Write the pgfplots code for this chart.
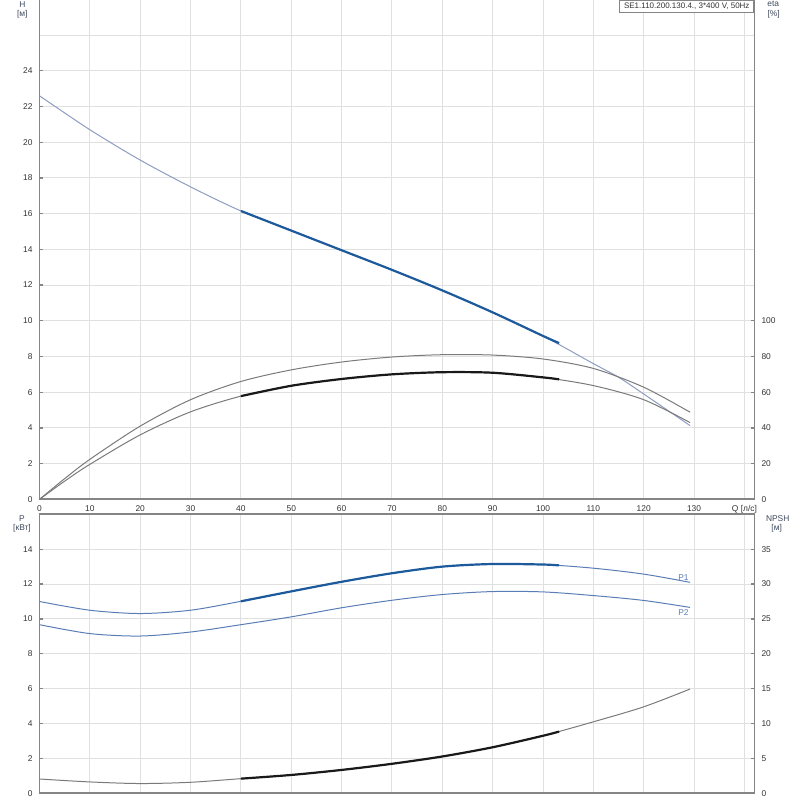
\documentclass[border=0pt]{standalone}
\usepackage{fontspec}
\setmainfont{Liberation Sans}
\usepackage{pgfplots}
\pgfplotsset{compat=1.18}
\definecolor{gridgray}{HTML}{E0E0E0}
\definecolor{axisgray}{HTML}{858585}
\definecolor{ticktext}{HTML}{333333}
\definecolor{labtext}{HTML}{3E4A5E}
\definecolor{hthin}{HTML}{8E9CC0}
\definecolor{hthick}{HTML}{1C5A9C}
\definecolor{pthin}{HTML}{5A7DB5}
\definecolor{etagray}{HTML}{7A7A7A}
\newcommand{\sm}{\fontsize{4.2}{5}\selectfont}
\pgfplotsset{
  base/.style={scale only axis, width=357.5pt, xmin=0, xmax=142,
    axis line style={draw=axisgray, line width=0.9pt},
    tick label style={font=\sm, text=ticktext},
    /pgf/number format/assume math mode=true,
    major tick length=1.5pt, tick style={draw=axisgray, line width=0.6pt},
    clip=false},
  thin/.style={line width=0.5pt, smooth, no markers},
  thick/.style={line width=1.1pt, smooth, no markers},
}
\begin{document}
\begin{tikzpicture}
\path[use as bounding box] (0,0) rectangle (400pt,-400pt);
% ---------- top panel: H ----------
\begin{axis}[base, at={(19.75pt,0.33pt)}, anchor=north west, height=250pt,
  ymin=0, ymax=28,
  xtick={0,10,...,140},
  xticklabels={0,10,20,30,40,50,60,70,80,90,100,110,120,130,{Q [л/с]}},
  xticklabel style={yshift=0.45pt},
  x tick style={draw=none},
  ytick={0,2,...,24}, ytick pos=left,
  extra y ticks={26}, extra y tick labels={},
  extra y tick style={grid=major, major tick length=0pt},
  grid=major, grid style={gridgray, line width=0.5pt},
  xtick pos=bottom]
\addplot[thin, color=hthin] table {
x y
0 22.6
10 20.7
20 19.0
30 17.5
40 16.15
50 15.05
60 13.95
70 12.85
80 11.7
90 10.47
100 9.15
110 7.6
115 6.84
120 5.9
129.2 4.13
};
\addplot[thick, color=hthick] table {
x y
40 16.15
50 15.05
60 13.95
70 12.85
80 11.7
90 10.47
100 9.15
103.2 8.75
};
\end{axis}
% ---------- top panel: eta ----------
\begin{axis}[base, at={(19.75pt,0.33pt)}, anchor=north west, height=250pt,
  ymin=0, ymax=280, axis y line*=right, axis x line=none,
  ytick={0,20,...,100}]
\addplot[thin, color=etagray] table {
x y
0 0
5 11.6
10 22.4
20 41.0
30 55.8
40 66.0
50 72.5
60 76.9
70 79.7
80 81.0
90 80.8
100 78.6
110 73.3
120 62.8
129.2 48.8
};
\addplot[thin, color=etagray] table {
x y
0 0
5 10.2
10 19.6
20 36.1
30 49.0
40 57.8
50 63.6
60 67.4
70 70.0
80 71.2
90 70.9
100 68.3
110 63.7
120 55.8
129.2 43.0
};
\addplot[thick, color=black!90] table {
x y
40 57.8
50 63.6
60 67.4
70 70.0
80 71.2
90 70.9
100 68.3
103.2 67.2
};
\end{axis}
% ---------- bottom panel: P ----------
\begin{axis}[base, at={(19.75pt,-257.15pt)}, anchor=north west, height=139.5pt,
  ymin=0, ymax=16,
  xtick={0,10,...,140}, xticklabels={}, x tick style={draw=none},
  ytick={0,2,...,14}, ytick pos=left, xtick pos=bottom,
  grid=major, grid style={gridgray, line width=0.5pt}]
\addplot[thin, color=pthin] table {
x y
0 11.0
10 10.5
20 10.31
30 10.5
40 11.01
50 11.58
60 12.13
70 12.62
80 13.0
90 13.15
100 13.12
110 12.91
120 12.57
129.2 12.1
};
\addplot[thick, color=hthick] table {
x y
40 11.01
50 11.58
60 12.13
70 12.62
80 13.0
90 13.15
100 13.12
103.2 13.07
};
\addplot[thin, color=pthin] table {
x y
0 9.67
10 9.16
20 9.02
30 9.25
40 9.67
50 10.12
60 10.64
70 11.07
80 11.40
90 11.57
100 11.55
110 11.34
120 11.06
129.2 10.66
};
\node[font=\sm, text=pthin] at (axis cs:127.9,12.38) {P1};
\node[font=\sm, text=pthin] at (axis cs:127.9,10.35) {P2};
\end{axis}
% ---------- bottom panel: NPSH ----------
\begin{axis}[base, at={(19.75pt,-257.15pt)}, anchor=north west, height=139.5pt,
  ymin=0, ymax=40, axis y line*=right, axis x line=none,
  ytick={0,5,...,35}]
\addplot[thin, color=etagray] table {
x y
0 2.05
10 1.63
20 1.4
30 1.58
40 2.1
50 2.63
60 3.35
70 4.23
80 5.28
90 6.6
100 8.25
110 10.25
120 12.4
129.2 14.95
};
\addplot[thick, color=black!90] table {
x y
40 2.1
50 2.63
60 3.35
70 4.23
80 5.28
90 6.6
100 8.25
103.2 8.85
};
\end{axis}
% ---------- labels ----------
\node[font=\sm, text=labtext] at (11.15pt,-2.2pt) {H};
\node[font=\sm, text=labtext] at (11.15pt,-7.35pt) {[м]};
\node[font=\sm, text=labtext] at (386.65pt,-1.9pt) {eta};
\node[font=\sm, text=labtext] at (386.85pt,-7pt) {[\%]};
\node[font=\sm, text=labtext] at (11pt,-259.15pt) {P};
\node[font=\sm, text=labtext] at (11pt,-264.15pt) {[кВт]};
\node[font=\sm, text=labtext] at (388.85pt,-259.15pt) {NPSH};
\node[font=\sm, text=labtext] at (388.35pt,-264.15pt) {[м]};
\node[font=\fontsize{4}{5}\selectfont, text=ticktext, draw=axisgray, line width=0.5pt, fill=white,
  anchor=north east, inner xsep=2.2pt, inner ysep=1.4pt] at (377.2pt,0.2pt)
  {SE1.110.200.130.4., 3*400 V, 50Hz};
\end{tikzpicture}
\end{document}
